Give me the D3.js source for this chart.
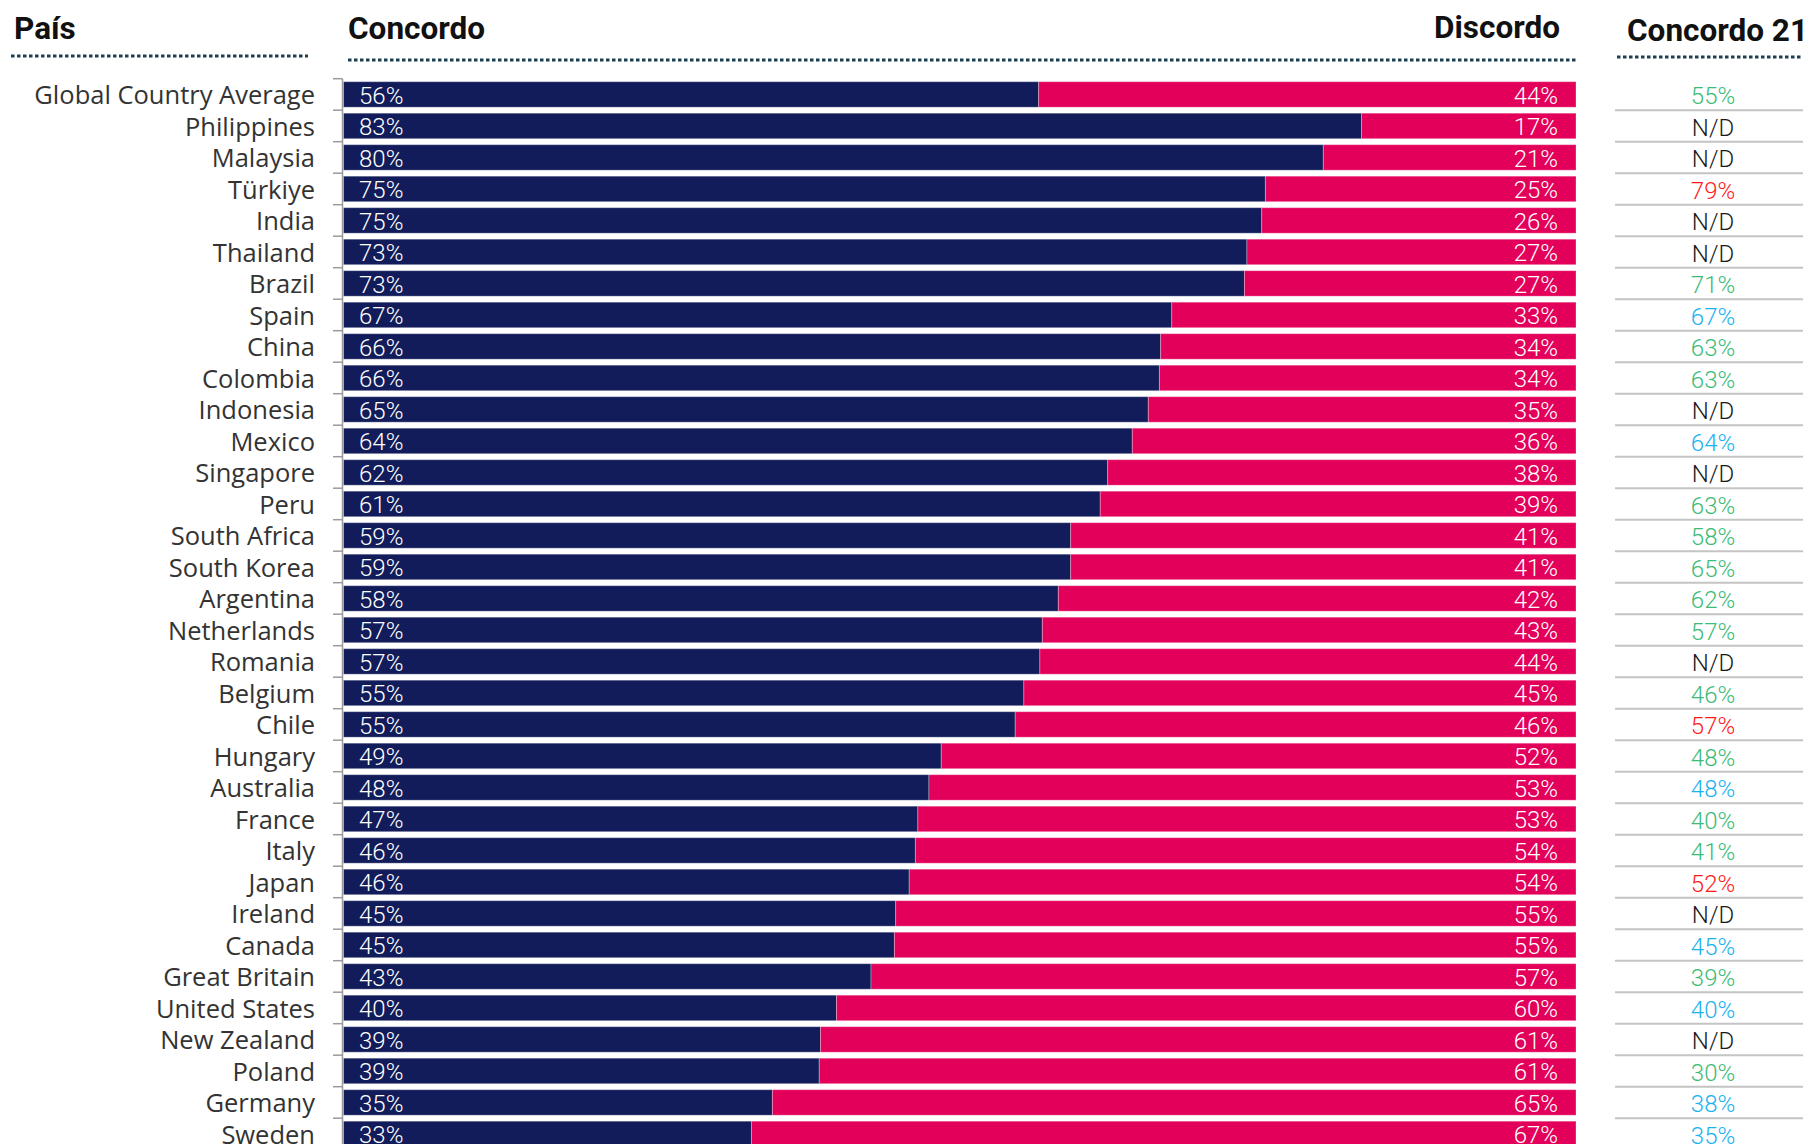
<!DOCTYPE html>
<html>
<head>
<meta charset="utf-8">
<script src="https://cdn.jsdelivr.net/npm/d3@7"></script>
<style>
  html, body { margin: 0; padding: 0; background: #fff; }
  svg { display: block; }
</style>
</head>
<body>
<svg id="chart" width="1803" height="1144"></svg>
<script>
const countries = ["Global Country Average","Philippines","Malaysia","Türkiye","India","Thailand","Brazil","Spain","China","Colombia","Indonesia","Mexico","Singapore","Peru","South Africa","South Korea","Argentina","Netherlands","Romania","Belgium","Chile","Hungary","Australia","France","Italy","Japan","Ireland","Canada","Great Britain","United States","New Zealand","Poland","Germany","Sweden"];
const agree = [56.4,82.6,79.5,74.8,74.5,73.3,73.1,67.2,66.3,66.2,65.3,64.0,62.0,61.4,59.0,59.0,58.0,56.7,56.5,55.2,54.5,48.5,47.5,46.6,46.4,45.9,44.8,44.7,42.8,40.0,38.7,38.6,34.8,33.1];
const disagree = [43.6,17.4,20.5,25.2,25.5,26.7,26.9,32.8,33.7,33.8,34.7,36.0,38.0,38.6,41.0,41.0,42.0,43.3,43.5,44.8,45.5,51.5,52.5,53.4,53.6,54.1,55.2,55.3,57.2,60.0,61.3,61.4,65.2,66.9];
const agreeLabels = [56,83,80,75,75,73,73,67,66,66,65,64,62,61,59,59,58,57,57,55,55,49,48,47,46,46,45,45,43,40,39,39,35,33];
const disagreeLabels = [44,17,21,25,26,27,27,33,34,34,35,36,38,39,41,41,42,43,44,45,46,52,53,53,54,54,55,55,57,60,61,61,65,67];
const agree21 = ["55%","N/D","N/D","79%","N/D","N/D","71%","67%","63%","63%","N/D","64%","N/D","63%","58%","65%","62%","57%","N/D","46%","57%","48%","48%","40%","41%","52%","N/D","45%","39%","40%","N/D","30%","38%","35%"];
const change21 = ["up","na","na","down","na","na","up","same","up","up","na","same","na","up","up","up","up","up","na","up","down","up","same","up","up","down","na","same","up","same","na","up","same","same"];
const headers = { country: "País", agree: "Concordo", disagree: "Discordo", agree21: "Concordo 21" };

const rows = countries.map((c, i) => ({
  country: c, agree: agree[i], disagree: disagree[i],
  agreeLabel: agreeLabels[i], disagreeLabel: disagreeLabels[i],
  a21: agree21[i], ch: change21[i]
}));

const svg = d3.select("#chart");
const NAVY = "#121c5a", PINK = "#e3005a";
const changeColor = d3.scaleOrdinal()
  .domain(["up","down","same","na"])
  .range(["#3dbb77","#ff1a1a","#1ab2ef","#1a1a1a"]);

const y = d3.scaleBand()
  .domain(countries)
  .range([78.7, 78.7 + countries.length * 31.5])
  .paddingInner(0.19)
  .paddingOuter(0.095);
const x = d3.scaleLinear().domain([0, 100]).range([343.5, 1576]);
const step = y.step();
const bw = y.bandwidth();
const cy = d => y(d.country) + bw / 2;

// Headers
const hdrFont = "Roboto, 'DejaVu Sans', sans-serif";
const hdr = svg.append("g").attr("font-family", hdrFont).attr("font-weight", 700)
  .attr("font-size", 31.5).attr("fill", "#111");
hdr.append("text").attr("x", 14).attr("y", 39).text(headers.country);
hdr.append("text").attr("x", 348).attr("y", 39).text(headers.agree);
hdr.append("text").attr("x", 1560).attr("y", 38).attr("text-anchor", "end").text(headers.disagree);
hdr.append("text").attr("x", 1627).attr("y", 41).text(headers.agree21);

// Dotted header rules
const dotted = [[11, 308, 56], [348, 1578, 60], [1617, 1803, 57]];
svg.append("g").selectAll("line").data(dotted).join("line")
  .attr("x1", d => d[0]).attr("x2", d => d[1])
  .attr("y1", d => d[2]).attr("y2", d => d[2])
  .attr("stroke", "#1d3f52").attr("stroke-width", 3)
  .attr("stroke-dasharray", "3.5,2.5");

// Axis: line + ticks at band boundaries
const axisG = svg.append("g");
axisG.append("line")
  .attr("x1", 342.5).attr("x2", 342.5)
  .attr("y1", y.range()[0]).attr("y2", y.range()[1])
  .attr("stroke", "#9a9a9a").attr("stroke-width", 1.5);
axisG.selectAll("line.tick").data(countries).join("line").attr("class", "tick")
  .attr("x1", 333).attr("x2", 342.5)
  .attr("y1", d => y(d) - step * y.paddingInner() / 2)
  .attr("y2", d => y(d) - step * y.paddingInner() / 2)
  .attr("stroke", "#9a9a9a").attr("stroke-width", 1.5);

// Country labels
svg.append("g").selectAll("text").data(rows).join("text")
  .attr("x", 315).attr("y", d => cy(d) + 10)
  .attr("text-anchor", "end")
  .attr("font-family", "'Open Sans', 'Noto Sans', sans-serif")
  .attr("font-weight", 400)
  .attr("font-size", 25.5).attr("fill", "#333")
  .text(d => d.country);

// Bars
const bars = svg.append("g");
bars.selectAll("rect.agree").data(rows).join("rect").attr("class", "agree")
  .attr("x", x(0)).attr("y", d => y(d.country))
  .attr("width", d => x(d.agree) - x(0)).attr("height", bw)
  .attr("fill", NAVY).attr("stroke", "rgba(255,255,255,0.3)").attr("stroke-width", 1);
bars.selectAll("rect.disagree").data(rows).join("rect").attr("class", "disagree")
  .attr("x", d => x(d.agree)).attr("y", d => y(d.country))
  .attr("width", d => x(d.agree + d.disagree) - x(d.agree)).attr("height", bw)
  .attr("fill", PINK).attr("stroke", "rgba(255,255,255,0.3)").attr("stroke-width", 1);

// Bar labels
const lblFont = "Roboto, 'DejaVu Sans', sans-serif";
svg.append("g").selectAll("text").data(rows).join("text")
  .attr("x", x(0) + 15.5).attr("y", d => cy(d) + 9.5)
  .attr("font-family", lblFont).attr("font-weight", 300)
  .attr("font-size", 24).attr("fill", "#fff")
  .text(d => d.agreeLabel + "%");
svg.append("g").selectAll("text").data(rows).join("text")
  .attr("x", x(100) - 18).attr("y", d => cy(d) + 9.5)
  .attr("text-anchor", "end")
  .attr("font-family", lblFont).attr("font-weight", 300)
  .attr("font-size", 24).attr("fill", "#fff")
  .text(d => d.disagreeLabel + "%");

// Concordo 21 column
const c21 = svg.append("g");
c21.selectAll("line").data(rows).join("line")
  .attr("x1", 1615).attr("x2", 1803)
  .attr("y1", d => y(d.country) + bw + step * y.paddingInner() / 2)
  .attr("y2", d => y(d.country) + bw + step * y.paddingInner() / 2)
  .attr("stroke", "#c4c4c4").attr("stroke-width", 2);
c21.selectAll("text").data(rows).join("text")
  .attr("x", 1713).attr("y", d => cy(d) + 10)
  .attr("text-anchor", "middle")
  .attr("font-family", lblFont).attr("font-weight", 300)
  .attr("font-size", 24).attr("fill", d => changeColor(d.ch))
  .text(d => d.a21);
</script>
</body>
</html>
